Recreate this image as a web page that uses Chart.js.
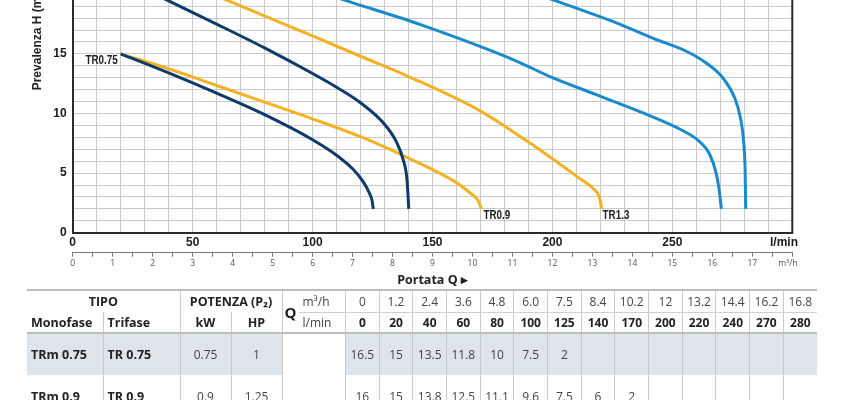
<!DOCTYPE html>
<html>
<head>
<meta charset="utf-8">
<title>Curve TR</title>
<script src="https://cdn.jsdelivr.net/npm/chart.js@4.4.0/dist/chart.umd.min.js"></script>
<style>
  body { margin: 0; background: #fff; }
  #page { position: relative; width: 848px; height: 400px; overflow: hidden; }
  #chartBox { position: absolute; left: 0; top: -162px; width: 848px; height: 455px; }
  #dati { position: absolute; left: 27px; top: 289px; width: 790px; border-collapse: collapse;
          table-layout: fixed; font-family: 'Open Sans', sans-serif; font-size: 12px; color: #444;
          border-top: 2px solid #bdbdbd; }
  #dati td { padding: 0; text-align: center; vertical-align: middle; white-space: nowrap; }
  #dati .bl { border-left: 1px solid #c9c9c9; }
  #dati .hd { font-weight: bold; font-size: 12.5px; color: #222; }
  #dati .b { font-weight: bold; color: #222; }
  #dati .left { text-align: left; padding-left: 4px; }
  #dati .q { font-weight: bold; font-size: 15px; color: #222; border-bottom: 2px solid #bdbdbd; }
  #dati .unit { text-align: left; padding-left: 4px; }
  #dati .sep { border-bottom: 1px solid #cfcfcf; }
  #dati tr.r1 { height: 22px; }
  #dati tr.r2 { height: 21px; }
  #dati tr.r2 td { border-bottom: 2px solid #bdbdbd; }
  #dati tr.body { height: 42px; }
  #dati tr.shade td { background: #dde5eb; }
  #dati tr.shade td.blank { background: #fff; }
  #dati .name { font-weight: bold; font-size: 12.5px; color: #222; }
</style>
</head>
<body>
<div id="page">
  <div id="chartBox"><canvas id="curveChart"></canvas></div>
  <table id="dati"></table>
</div>
<script>
// portata (l/min) e prevalenza (m)
const qTR075 = [20, 40, 60, 80, 100, 110, 117, 121, 123.5, 124.8, 125.3];
const hTR075 = [15, 13.4, 11.7, 9.9, 7.8, 6.5, 5.3, 4.3, 3.4, 2.7, 2];

const qTR09 = [20, 40, 60, 80, 100, 120, 140, 160, 165.6, 169, 170.4];
const hTR09 = [15, 13.75, 12.35, 10.95, 9.55, 8.05, 6.25, 4.2, 3.35, 2.7, 2];

const qTR11 = [20, 40, 60, 80, 100, 110, 120, 130, 135, 137.8, 139.4, 140.1];
const hTR11 = [21.4, 19.45, 17.5, 15.5, 13.35, 12.2, 10.9, 9.1, 7.6, 6.1, 4.4, 2];

const qTR13 = [20, 40, 65, 100, 120, 140, 170, 190, 200, 211, 217, 219.7, 220.5];
const hTR13 = [23.2, 21.6, 19.45, 16.5, 14.8, 13.1, 10.2, 7.6, 6.2, 4.6, 3.7, 2.9, 2];

const qTR15 = [80, 100, 115, 145, 185, 200, 218, 242, 253, 261, 265.5, 268.3, 269.7, 270.4];
const hTR15 = [21.7, 20.4, 19.4, 17.45, 14.4, 13.0, 11.6, 9.7, 8.7, 7.7, 6.6, 4.95, 3.3, 2];

const qTR2 = [180, 202, 228, 242, 256, 264, 271, 276, 278.3, 279.7, 280.3, 280.6];
const hTR2 = [20.9, 19.4, 17.5, 16.3, 15.2, 14.25, 13.0, 11.3, 9.7, 7.7, 5.5, 2];

// tabella
const flowM3h = ['0', '1.2', '2.4', '3.6', '4.8', '6.0', '7.5', '8.4', '10.2', '12', '13.2', '14.4', '16.2', '16.8'];
const flowLmin = [0, 20, 40, 60, 80, 100, 125, 140, 170, 200, 220, 240, 270, 280];
const models = [
    ['TRm 0.75', 'TR 0.75', '0.75', '1'],
    ['TRm 0.9', 'TR 0.9', '0.9', '1.25']
];
const headRows = [
    [16.5, 15, 13.5, 11.8, 10, 7.5, 2],
    [16, 15, 13.8, 12.5, 11.1, 9.6, 7.5, 6, 2]
];

const NAVY = '#0f3a6c';
const ORANGE = '#f3b225';
const BLUE = '#1a8acb';
const FONT_AX = "'Liberation Sans', Arial, sans-serif";

function points(q, h) {
    return q.map((v, i) => ({ x: v, y: h[i] }));
}

function curve(q, h, color, tag) {
    return {
        data: points(q, h),
        borderColor: color,
        borderWidth: 3,
        pointRadius: 0,
        fill: false,
        cubicInterpolationMode: 'monotone',
        tag: tag
    };
}

const frame = {
    id: 'frame',
    afterDraw(chart) {
        const { ctx, chartArea } = chart;
        ctx.save();
        ctx.strokeStyle = '#2a2a2a';
        ctx.lineWidth = 2;
        ctx.beginPath();
        ctx.moveTo(chartArea.right, chartArea.top);
        ctx.lineTo(chartArea.right, chartArea.bottom + 1);
        ctx.stroke();
        ctx.restore();
    }
};

// nome della curva accanto al primo o all'ultimo punto, in carattere stretto
const curveTags = {
    id: 'curveTags',
    afterDatasetsDraw(chart) {
        const ctx = chart.ctx;
        chart.data.datasets.forEach((ds, i) => {
            if (!ds.tag) return;
            const pts = chart.getDatasetMeta(i).data;
            const p = ds.tag.end ? pts[pts.length - 1] : pts[0];
            ctx.save();
            ctx.font = 'bold 12px ' + FONT_AX;
            ctx.fillStyle = '#222';
            ctx.textAlign = ds.tag.align;
            ctx.textBaseline = 'middle';
            const w = ctx.measureText(ds.tag.text).width * 0.82;
            ctx.fillText(ds.tag.text, p.x + ds.tag.dx, p.y + ds.tag.dy, w);
            ctx.restore();
        });
    }
};

new Chart(document.getElementById('curveChart'), {
    type: 'line',
    data: {
        datasets: [
            curve(qTR075, hTR075, NAVY, { text: 'TR0.75', end: false, align: 'right', dx: -3, dy: 6.5 }),
            curve(qTR11, hTR11, NAVY),
            curve(qTR09, hTR09, ORANGE, { text: 'TR0.9', end: true, align: 'left', dx: 2, dy: 6.5 }),
            curve(qTR13, hTR13, ORANGE, { text: 'TR1.3', end: true, align: 'left', dx: 1, dy: 6.5 }),
            curve(qTR15, hTR15, BLUE),
            curve(qTR2, hTR2, BLUE)
        ]
    },
    options: {
        responsive: true,
        maintainAspectRatio: false,
        animation: false,
        layout: { padding: { top: 10.7, left: 0, right: 55.7, bottom: 0.3 } },
        plugins: {
            legend: { display: false },
            tooltip: { enabled: false }
        },
        scales: {
            x: {
                type: 'linear',
                position: 'bottom',
                min: 0,
                max: 300,
                weight: 0,
                grid: { color: '#c9c9c9', lineWidth: 1, drawTicks: false },
                border: { display: true, color: '#2a2a2a', width: 2 },
                ticks: {
                    stepSize: 10,
                    autoSkip: false,
                    maxRotation: 0,
                    padding: 2.8,
                    color: '#1a1a1a',
                    font: { family: FONT_AX, size: 12, weight: 'bold' },
                    callback: function(value) {
                        if (value === 300) return 'l/min     ';
                        return value % 50 === 0 ? value : '';
                    }
                },
                afterFit: function(scale) { scale.height = 20; }
            },
            x2: {
                type: 'linear',
                position: 'bottom',
                min: 0,
                max: 18,
                weight: 1,
                grid: { display: true, drawOnChartArea: false, drawTicks: true, tickLength: 4, tickColor: '#777' },
                border: { display: true, color: '#777', width: 1 },
                ticks: {
                    stepSize: 0.5,
                    autoSkip: false,
                    maxRotation: 0,
                    padding: 1.5,
                    color: '#555',
                    font: { family: "'Open Sans', sans-serif", size: 8.5 },
                    callback: function(value) {
                        if (value === 18) return 'm³/h    ';
                        return Number.isInteger(value) ? value : '';
                    }
                },
                title: {
                    display: true,
                    text: 'Portata Q ▸',
                    color: '#222',
                    padding: { top: 0, bottom: 5 },
                    font: { family: "'Open Sans', sans-serif", size: 12.5, weight: 'bold' }
                },
                afterFit: function(scale) { scale.height = 40; }
            },
            y: {
                min: 0,
                max: 32,
                grid: { color: '#c9c9c9', lineWidth: 1, drawTicks: false },
                border: { display: true, color: '#2a2a2a', width: 2 },
                ticks: {
                    stepSize: 1,
                    autoSkip: false,
                    padding: 6,
                    color: '#1a1a1a',
                    font: { family: FONT_AX, size: 12, weight: 'bold' },
                    callback: function(value) {
                        return value % 5 === 0 ? value : '';
                    }
                },
                title: {
                    display: true,
                    text: 'Prevalenza H (m)',
                    color: '#222',
                    padding: { top: 30.8, bottom: 0 },
                    font: { family: FONT_AX, size: 12, weight: 'bold' }
                },
                afterFit: function(scale) { scale.width = 72.7; }
            }
        }
    },
    plugins: [frame, curveTags]
});

function buildTable() {
    const widths = [76, 77, 51, 51, 16.5, 47];
    let html = '<colgroup>';
    widths.forEach(w => html += '<col style="width:' + w + 'px">');
    flowLmin.forEach(() => html += '<col style="width:' + (471.5 / flowLmin.length) + 'px">');
    html += '</colgroup>';

    html += '<tr class="r1"><td colspan="2" class="hd">TIPO</td>' +
        '<td colspan="2" class="hd bl">POTENZA (P₂)</td>' +
        '<td rowspan="2" class="q bl">Q</td><td class="unit sep">m³/h</td>';
    flowM3h.forEach(v => html += '<td class="bl sep">' + v + '</td>');
    html += '</tr>';

    html += '<tr class="r2"><td class="hd left">Monofase</td><td class="hd left bl">Trifase</td>' +
        '<td class="hd bl">kW</td><td class="hd bl">HP</td><td class="unit">l/min</td>';
    flowLmin.forEach(v => html += '<td class="bl b">' + v + '</td>');
    html += '</tr>';

    models.forEach((m, i) => {
        html += '<tr class="body' + (i % 2 === 0 ? ' shade' : '') + '">';
        html += '<td class="name left">' + m[0] + '</td>';
        html += '<td class="name left bl">' + m[1] + '</td>';
        html += '<td class="bl">' + m[2] + '</td><td class="bl">' + m[3] + '</td>';
        if (i === 0) html += '<td colspan="2" rowspan="' + models.length + '" class="bl blank"></td>';
        flowLmin.forEach((q, k) => {
            const h = headRows[i][k];
            html += '<td class="bl">' + (h === undefined ? '' : h) + '</td>';
        });
        html += '</tr>';
    });
    document.getElementById('dati').innerHTML = html;
}

buildTable();
</script>
</body>
</html>
